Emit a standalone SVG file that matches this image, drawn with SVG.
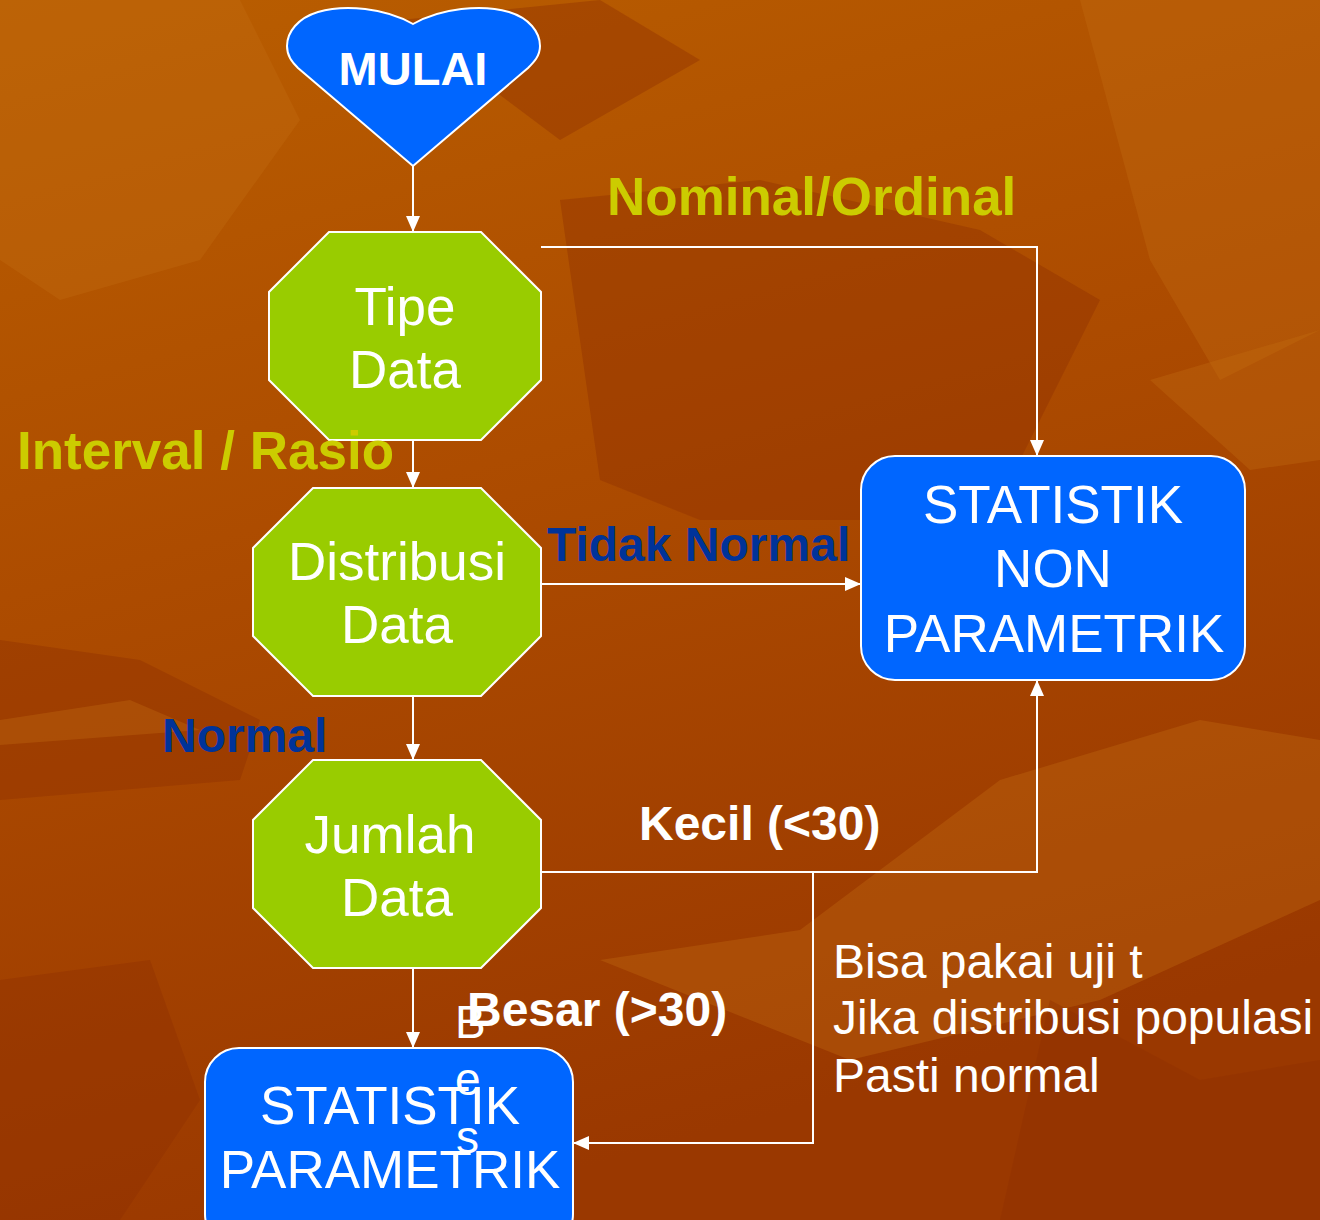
<svg xmlns="http://www.w3.org/2000/svg" width="1320" height="1220" viewBox="0 0 1320 1220">
<defs>
<linearGradient id="bg" x1="0" y1="0" x2="0.3" y2="1">
<stop offset="0" stop-color="#b95e00"/>
<stop offset="0.45" stop-color="#ad4c00"/>
<stop offset="1" stop-color="#9a3800"/>
</linearGradient>
<marker id="arr" viewBox="0 0 16 14" refX="16" refY="7" markerWidth="16" markerHeight="14" markerUnits="userSpaceOnUse" orient="auto">
<path d="M0,0 L16,7 L0,14 Z" fill="#ffffff"/>
</marker>
<style>
.conn{fill:none;stroke:#ffffff;stroke-width:2}
.oct{fill:#99cc00;stroke:#ffffff;stroke-width:2}
.blue{fill:#0066ff;stroke:#ffffff;stroke-width:2}
.nt{font-family:"Liberation Sans",Arial,sans-serif;font-size:53px;fill:#ffffff;text-anchor:middle}
.lbl{font-family:"Liberation Sans",Arial,sans-serif;font-weight:bold;font-size:48px}
.yel{fill:#cccc00;font-size:53px}
.dblue{fill:#003399}
.wht{fill:#ffffff}
.note{font-family:"Liberation Sans",Arial,sans-serif;font-size:48px;fill:#ffffff}
.leafL{fill:#c46c10;opacity:0.35}
.leafD{fill:#8e3000;opacity:0.4}
</style>
</defs>
<rect width="1320" height="1220" fill="url(#bg)"/>
<g id="background">
<path class="leafL" d="M0,0 L240,0 L300,120 L200,260 L60,300 L0,260 Z"/>
<path class="leafD" d="M560,200 L760,180 L980,230 L1100,300 L1000,500 L900,520 L700,520 L600,480 Z"/>
<path class="leafL" d="M1080,0 L1320,0 L1320,330 L1220,380 L1150,260 Z"/>
<path class="leafD" d="M0,640 L140,660 L260,720 L240,780 L0,800 Z"/>
<path class="leafL" d="M0,720 L130,700 L200,730 L0,745 Z"/>
<path class="leafL" d="M600,960 L800,930 L1000,780 L1200,720 L1320,740 L1320,900 L1100,1000 L850,1060 Z"/>
<path class="leafD" d="M1050,1000 L1200,1080 L1320,1060 L1320,1220 L1000,1220 Z"/>
<path class="leafD" d="M0,980 L150,960 L200,1100 L120,1220 L0,1220 Z"/>
<path class="leafL" d="M1150,380 L1320,330 L1320,460 L1250,470 Z"/>
<path class="leafD" d="M400,20 L600,0 L700,60 L560,140 Z"/>
</g>
<g id="connectors">
<line class="conn" x1="413" y1="166" x2="413" y2="232" marker-end="url(#arr)"/>
<polyline class="conn" points="541,247 1037,247 1037,456" marker-end="url(#arr)"/>
<line class="conn" x1="413" y1="424" x2="413" y2="488" marker-end="url(#arr)"/>
<line class="conn" x1="541" y1="584" x2="861" y2="584" marker-end="url(#arr)"/>
<line class="conn" x1="413" y1="696" x2="413" y2="760" marker-end="url(#arr)"/>
<polyline class="conn" points="541,872 1037,872 1037,680" marker-end="url(#arr)"/>
<polyline class="conn" points="813,872 813,1143 573,1143" marker-end="url(#arr)"/>
<line class="conn" x1="413" y1="968" x2="413" y2="1048" marker-end="url(#arr)"/>
</g>
<g id="mulai">
<path class="blue" d="M413,24 C385,8 345,4 318,12 C298,18 287,32 287,46 C287,56 292,62 298,68 L413,166 L528,68 C534,62 540,56 540,46 C540,32 529,18 509,12 C482,4 441,8 413,24 Z"/>
<text x="413" y="85" class="lbl wht" style="font-size:47px" text-anchor="middle">MULAI</text>
</g>
<g id="tipe-data">
<polygon class="oct" points="329,232 481,232 541,292 541,380 481,440 329,440 269,380 269,292"/>
<text x="405" y="325" class="nt">Tipe</text>
<text x="405" y="388" class="nt">Data</text>
</g>
<g id="distribusi-data">
<polygon class="oct" points="313,488 481,488 541,548 541,636 481,696 313,696 253,636 253,548"/>
<text x="397" y="580" class="nt">Distribusi</text>
<text x="397" y="643" class="nt">Data</text>
</g>
<g id="jumlah-data">
<polygon class="oct" points="313,760 481,760 541,820 541,908 481,968 313,968 253,908 253,820"/>
<text x="390" y="853" class="nt">Jumlah</text>
<text x="397" y="916" class="nt">Data</text>
</g>
<g id="non-parametrik">
<rect class="blue" x="861" y="456" width="384" height="224" rx="34"/>
<text x="1053" y="523" class="nt">STATISTIK</text>
<text x="1053" y="587" class="nt">NON</text>
<text x="1054" y="652" class="nt">PARAMETRIK</text>
</g>
<g id="parametrik">
<rect class="blue" x="205" y="1048" width="368" height="200" rx="34"/>
<text x="390" y="1124" class="nt">STATISTIK</text>
<text x="390" y="1188" class="nt">PARAMETRIK</text>
</g>
<g id="labels">
<text x="607" y="215" class="lbl yel">Nominal/Ordinal</text>
<text x="17" y="469" class="lbl yel">Interval / Rasio</text>
<text x="547" y="561" class="lbl dblue">Tidak Normal</text>
<text x="162" y="752" class="lbl dblue">Normal</text>
<text x="639" y="840" class="lbl wht">Kecil (&lt;30)</text>
<text x="455" y="1038" class="note" style="font-size:46px">B</text>
<text x="455" y="1095" class="note" style="font-size:46px">e</text>
<text x="456" y="1153" class="note" style="font-size:46px">s</text>
<text x="467" y="1026" class="lbl wht">Besar (&gt;30)</text>
<text x="833" y="978" class="note">Bisa pakai uji t</text>
<text x="833" y="1034" class="note">Jika distribusi populasi</text>
<text x="833" y="1092" class="note">Pasti normal</text>
</g>
</svg>
